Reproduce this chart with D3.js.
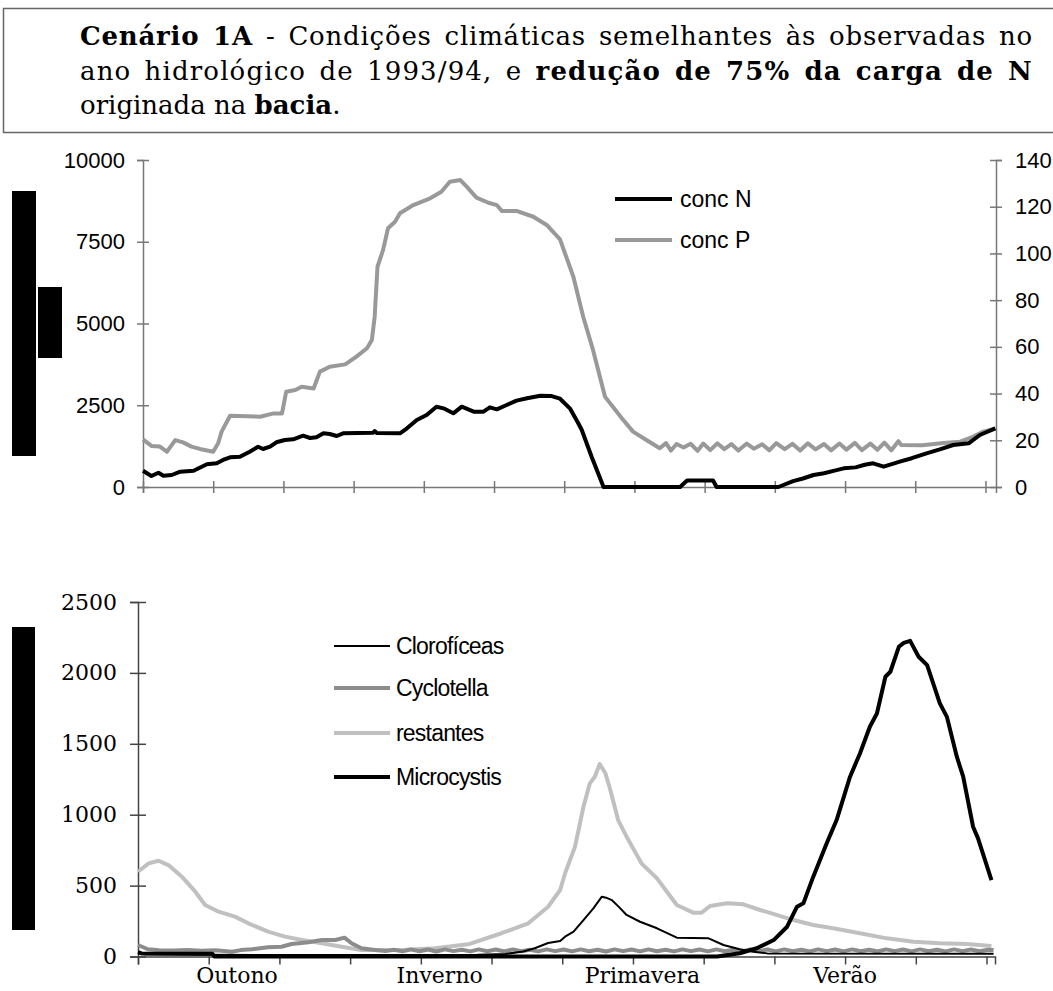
<!DOCTYPE html>
<html>
<head>
<meta charset="utf-8">
<script src="https://cdn.jsdelivr.net/npm/d3@7"></script>
<style>
  body { margin: 0; background: #fff; }
  svg { display: block; }
  .sans { font-family: "Liberation Sans", Arial, sans-serif; }
  .serif { font-family: "DejaVu Serif", "Liberation Serif", serif; }
</style>
</head>
<body>
<div id="chart"></div>
<script>
// ---- data (x = months since 1 October) ----
const concN = [[0,498],[0.12,336],[0.22,437],[0.29,346],[0.41,367],[0.53,468],[0.72,498],[0.91,694],
  [1.05,725],[1.14,826],[1.24,908],[1.38,927],[1.52,1080],[1.64,1232],[1.71,1162],[1.81,1232],[1.90,1367],
  [2.02,1437],[2.14,1459],[2.28,1569],[2.38,1498],[2.47,1520],[2.57,1642],[2.66,1621],[2.76,1560],[2.85,1642],
  [3.28,1661],[3.30,1710],[3.33,1650],[3.66,1642],[3.76,1795],[3.90,2049],[4.04,2202],[4.18,2456],[4.28,2406],
  [4.42,2253],[4.54,2456],[4.71,2303],[4.85,2303],[4.94,2436],[5.04,2375],[5.18,2507],[5.32,2640],[5.47,2712],
  [5.66,2793],[5.82,2780],[5.94,2700],[6.08,2406],[6.20,1948],[6.25,1743],[6.39,927],[6.56,0],[7.65,0],
  [7.75,200],[8.12,200],[8.17,0],[9.05,0],[9.26,180],[9.4,260],[9.55,367],[9.7,420],[9.85,500],[9.98,571],
  [10.15,600],[10.28,680],[10.40,725],[10.55,621],[10.78,774],[10.95,880],[11.16,1030],[11.35,1150],
  [11.54,1284],[11.76,1335],[11.92,1590],[12.14,1795]];

const concP = [[0,20.4],[0.12,17.6],[0.24,17.3],[0.34,15.1],[0.46,20.1],[0.57,19.1],[0.69,17.3],[0.81,16.3],
  [1.0,15.1],[1.07,18.7],[1.12,23.7],[1.24,30.5],[1.67,30.1],[1.86,31.5],[1.98,31.5],[2.04,40.8],[2.17,41.5],
  [2.26,42.9],[2.43,42.2],[2.52,49.4],[2.66,51.5],[2.88,52.5],[3.04,55.8],[3.19,59.4],[3.26,62.9],[3.30,72.9],
  [3.34,94.3],[3.42,101.5],[3.49,110.8],[3.59,113.6],[3.66,117.2],[3.85,120.7],[4.09,123.6],[4.25,126.4],
  [4.37,130.7],[4.52,131.4],[4.61,128.6],[4.75,123.9],[4.92,121.7],[5.04,120.7],[5.11,118.2],[5.32,118.2],
  [5.56,115.7],[5.75,112.2],[5.94,106],[6.13,90],[6.27,72.9],[6.41,58.7],[6.58,38.7],[6.82,29.4],[6.98,23.7],
  [7.17,20.1],[7.36,16.6],[7.45,18.8],[7.52,15.6],[7.6,18.4],[7.7,16.9],[7.8,18.5],[7.9,15.5],[7.98,18.6],
  [8.08,15.8],[8.18,18.7],[8.28,16.2],[8.38,18.4],[8.48,15.6],[8.6,18.6],[8.7,16.4],[8.82,18.3],[8.92,15.7],
  [9.02,18.8],[9.14,16.2],[9.25,18.5],[9.36,15.6],[9.47,18.7],[9.58,16.1],[9.7,18.4],[9.8,15.7],[9.92,18.6],
  [10.02,16.0],[10.14,18.9],[10.24,15.8],[10.36,18.6],[10.46,15.9],[10.56,19.0],[10.66,15.7],[10.76,19.6],
  [10.8,18.0],[11.1,17.9],[11.4,18.8],[11.64,19.4],[11.82,21.5],[11.97,23.7],[12.14,25.1]];

const clorofíceas = [[0,30],[0.1,15],[1.0,12],[2.0,10],[3.0,10],[4.0,10],[4.8,12],[5.2,18],[5.45,35],
  [5.62,60],[5.8,95],[5.97,110],[6.04,140],[6.16,175],[6.30,257],[6.44,340],[6.56,422],[6.62,415],[6.70,398],
  [6.80,350],[6.91,293],[7.10,245],[7.34,199],[7.62,133],[8.07,128],[8.28,81],[8.51,51],[8.70,34],[8.9,22],
  [12.1,20]];

const cyclotella = [[0,81],[0.14,51],[0.3,44],[0.5,42],[0.7,45],[0.9,40],[1.1,44],[1.33,34],[1.45,45],
  [1.61,51],[1.84,65],[2.03,69],[2.17,88],[2.41,100],[2.60,116],[2.79,116],[2.92,133],[3.02,93],[3.16,58],
  [3.35,46],[3.5,38],[3.62,48],[3.74,36],[3.86,50],[3.98,37],[4.1,49],[4.22,35],[4.34,50],[4.46,38],[4.58,48],
  [4.7,36],[4.82,50],[4.94,37],[5.06,49],[5.18,35],[5.3,50],[5.42,37],[5.54,48],[5.66,36],[5.78,50],[5.9,38],
  [6.02,49],[6.14,36],[6.26,50],[6.38,37],[6.5,48],[6.62,35],[6.74,50],[6.86,38],[6.98,49],[7.1,36],[7.22,50],
  [7.34,37],[7.46,48],[7.58,36],[7.7,50],[7.82,38],[7.94,49],[8.06,36],[8.18,50],[8.3,37],[8.42,48],[8.54,35],
  [8.66,50],[8.78,38],[8.9,49],[9.02,36],[9.14,50],[9.26,37],[9.38,48],[9.5,36],[9.62,50],[9.74,38],[9.86,49],
  [9.98,36],[10.1,50],[10.22,37],[10.34,48],[10.46,35],[10.58,50],[10.7,38],[10.82,49],[10.94,36],[11.06,50],
  [11.18,37],[11.3,48],[11.42,36],[11.54,50],[11.66,38],[11.78,49],[11.9,37],[12.02,48],[12.1,45]];

const restantes = [[0,598],[0.15,657],[0.29,675],[0.43,645],[0.62,563],[0.81,457],[0.95,363],[1.14,316],
  [1.37,281],[1.56,234],[1.84,175],[2.08,140],[2.32,116],[2.60,93],[2.88,69],[3.16,46],[3.73,46],[4.20,58],
  [4.67,86],[5.14,164],[5.52,234],[5.80,351],[5.97,469],[6.04,587],[6.18,774],[6.30,1056],[6.39,1221],
  [6.46,1268],[6.53,1357],[6.61,1292],[6.68,1174],[6.79,962],[6.91,845],[7.12,657],[7.34,551],[7.48,457],
  [7.62,363],[7.85,309],[7.97,309],[8.09,356],[8.33,375],[8.56,368],[8.80,328],[9.03,293],[9.27,257],
  [9.55,222],[9.83,199],[10.21,164],[10.59,128],[10.97,104],[11.34,93],[11.72,88],[12.07,74]];

const microcystis = [[0,30],[0.05,22],[1.05,20],[1.08,0],[8.19,0],[8.51,23],[8.75,58],[8.99,116],[9.18,210],
  [9.32,351],[9.41,375],[9.55,563],[9.74,798],[9.88,962],[10.07,1268],[10.21,1432],[10.35,1620],[10.45,1714],
  [10.57,1973],[10.64,2008],[10.76,2184],[10.83,2212],[10.92,2226],[11.04,2114],[11.16,2055],[11.34,1785],
  [11.44,1690],[11.58,1409],[11.67,1268],[11.81,915],[11.88,833],[12.07,539]];

const leftTicksTop = [0, 2500, 5000, 7500, 10000];
const rightTicksTop = [0, 20, 40, 60, 80, 100, 120, 140];
const ticksBottom = [0, 500, 1000, 1500, 2000, 2500];
const monthTicks = d3.range(0, 13);
const seasons = ['Outono', 'Inverno', 'Primavera', 'Verão'];

const titleLines = [
  [['Cenário 1A', true], [' - Condições climáticas semelhantes às observadas no', false]],
  [['ano hidrológico de 1993/94, e ', false], ['redução de 75% da carga de N', true]],
  [['originada na ', false], ['bacia', true], ['.', false]]
];

// ---- svg ----
const W = 1053, H = 991;
const svg = d3.select('#chart').append('svg').attr('width', W).attr('height', H);
const plain = d3.format('d');

// title box
svg.append('rect').attr('x', 3.5).attr('y', 8.5).attr('width', 1060).attr('height', 124)
  .attr('fill', 'none').attr('stroke', '#666').attr('stroke-width', 1.5);

const title = svg.append('g').attr('class', 'serif');
titleLines.forEach((segs, i) => {
  const t = title.append('text').attr('x', 80).attr('y', 45 + i * 34.5)
    .attr('font-size', 26).attr('fill', '#000');
  segs.forEach(([s, b]) => t.append('tspan').attr('font-weight', b ? 'bold' : 'normal').text(s));
  if (i < 2) {
    // justified lines: spread the gap over letters and words
    const full = segs.map(d => d[0]).join('');
    const gap = 953 - t.node().getComputedTextLength();
    const spaces = (full.match(/ /g) || []).length;
    const ls = gap * 0.6 / (full.length - 1);
    t.attr('letter-spacing', ls);
    const rest = 953 - t.node().getComputedTextLength();
    t.attr('word-spacing', rest / spaces);
  }
});

// redaction blocks
[[12, 191, 24, 265], [38, 287, 24, 71], [12, 627, 23, 303]].forEach(([x, y, w, h]) =>
  svg.append('rect').attr('x', x).attr('y', y).attr('width', w).attr('height', h).attr('fill', '#000'));

// ---- top chart ----
const xT = d3.scaleLinear().domain([0, 12.15]).range([143, 996]);
const yL = d3.scaleLinear().domain([0, 10000]).range([487, 160]);
const yR = d3.scaleLinear().domain([0, 140]).range([487, 160]);

const topG = svg.append('g');
const axisColor = '#777';

const gx = topG.append('g').attr('transform', 'translate(0,487)')
  .call(d3.axisBottom(xT).tickValues(monthTicks).tickFormat('').tickSizeOuter(0).tickSize(6));
gx.selectAll('.tick line').attr('y1', -6).attr('y2', 6);

const gl = topG.append('g').attr('transform', 'translate(143,0)')
  .call(d3.axisLeft(yL).tickValues(leftTicksTop).tickFormat(plain).tickSizeOuter(0).tickSize(6).tickPadding(12));
gl.selectAll('.tick line').attr('x1', 6);

const gr = topG.append('g').attr('transform', 'translate(996,0)')
  .call(d3.axisRight(yR).tickValues(rightTicksTop).tickFormat(plain).tickSizeOuter(0).tickSize(6).tickPadding(13));
gr.selectAll('.tick line').attr('x1', -6);

[gx, gl, gr].forEach(g => {
  g.select('.domain').attr('stroke', axisColor).attr('stroke-width', 1.5);
  g.selectAll('.tick line').attr('stroke', axisColor).attr('stroke-width', 1.5);
  g.selectAll('.tick text').attr('font-size', 22).attr('fill', '#000')
    .attr('font-family', '"Liberation Sans", Arial, sans-serif');
});

const lineT = (ys) => d3.line().x(d => xT(d[0])).y(d => ys(d[1]));
topG.append('path').datum(concP).attr('d', lineT(yR)).attr('fill', 'none')
  .attr('stroke', '#999').attr('stroke-width', 4).attr('stroke-linejoin', 'round');
topG.append('path').datum(concN).attr('d', lineT(yL)).attr('fill', 'none')
  .attr('stroke', '#000').attr('stroke-width', 4).attr('stroke-linejoin', 'round');

// top legend
const legTop = [['conc N', '#000'], ['conc P', '#999']];
legTop.forEach(([name, c], i) => {
  const y = 199 + i * 41;
  topG.append('line').attr('x1', 615).attr('x2', 672).attr('y1', y).attr('y2', y)
    .attr('stroke', c).attr('stroke-width', 4);
  topG.append('text').attr('class', 'sans').attr('x', 680).attr('y', y + 8)
    .attr('font-size', 23).text(name);
});

// ---- bottom chart ----
const xB = d3.scaleLinear().domain([0, 12.12]).range([138, 995]);
const yB = d3.scaleLinear().domain([0, 2500]).range([956.5, 602]);
const botG = svg.append('g');

const bl = botG.append('g').attr('transform', 'translate(138,0)')
  .call(d3.axisLeft(yB).tickValues(ticksBottom).tickFormat(plain).tickSizeOuter(0).tickSize(8).tickPadding(13));
bl.selectAll('.tick line').attr('x1', 8);

const bx = botG.append('g').attr('transform', 'translate(0,956.5)')
  .call(d3.axisBottom(xB).tickValues(monthTicks).tickFormat('').tickSizeOuter(0).tickSize(8));

[bl, bx].forEach(g => {
  g.select('.domain').attr('stroke', '#444').attr('stroke-width', 1.5);
  g.selectAll('.tick line').attr('stroke', '#444').attr('stroke-width', 1.5);
  g.selectAll('.tick text').attr('font-size', 22).attr('fill', '#000')
    .attr('font-family', '"DejaVu Serif", "Liberation Serif", serif');
});

const seasonX = d3.scalePoint().domain(seasons).range([xB(1.4), xB(10)]);
botG.selectAll('.season').data(seasons).enter().append('text')
  .attr('class', 'serif season').attr('x', d => seasonX(d)).attr('y', 983)
  .attr('text-anchor', 'middle').attr('font-size', 22).text(d => d);

const lineB = d3.line().x(d => xB(d[0])).y(d => yB(d[1]));
const bottomSeries = [
  { name: 'Clorofíceas', data: clorofíceas, color: '#000', width: 2 },
  { name: 'Cyclotella', data: cyclotella, color: '#8c8c8c', width: 4 },
  { name: 'restantes', data: restantes, color: '#c0c0c0', width: 4 },
  { name: 'Microcystis', data: microcystis, color: '#000', width: 4 }
];
[2, 1, 0, 3].forEach(i => {
  const s = bottomSeries[i];
  botG.append('path').datum(s.data).attr('d', lineB).attr('fill', 'none')
    .attr('stroke', s.color).attr('stroke-width', s.width).attr('stroke-linejoin', 'round');
});

// bottom legend
const legY = [646, 688, 733, 777];
bottomSeries.forEach((s, i) => {
  botG.append('line').attr('x1', 334).attr('x2', 390).attr('y1', legY[i]).attr('y2', legY[i])
    .attr('stroke', s.color).attr('stroke-width', s.width);
  botG.append('text').attr('class', 'sans').attr('x', 396).attr('y', legY[i] + 8)
    .attr('font-size', 23).attr('letter-spacing', -0.8).text(s.name);
});
</script>
</body>
</html>
